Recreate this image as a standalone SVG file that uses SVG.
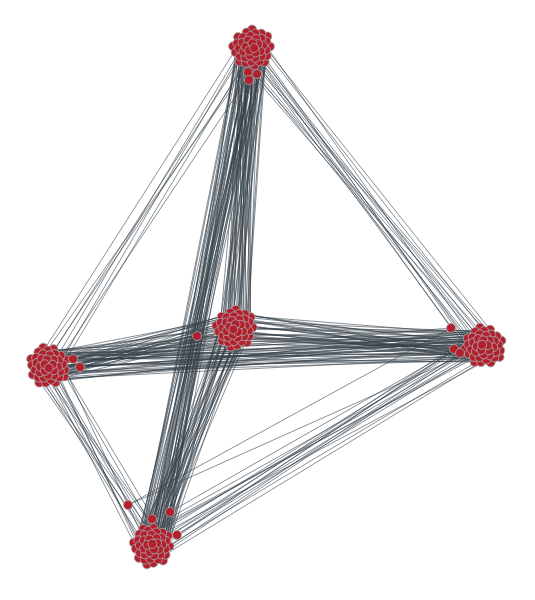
<svg xmlns="http://www.w3.org/2000/svg" width="535" height="600" viewBox="0 0 535 600">
<style>
.e{fill:none;stroke:#36424a;stroke-width:0.7;stroke-opacity:0.85;vector-effect:non-scaling-stroke}
circle{fill:#b21f2d;stroke:#a8a8a8;stroke-width:0.8}
</style>
<defs>
<path id="pA" class="e" d="M0 -15L1 8M0 -12L1 -3M0 -9L1 14M0 -6L1 -10M0 -3L1 5M0 0L1 -15M0 3L1 11M0 6L1 -6M0 9L1 2M0 12L1 -12M0 15L1 7M0 -14L1 -1M0 -11L1 16M0 -7L1 -14M0 -4L1 9M0 -1L1 -7M0 2L1 13M0 5L1 -2M0 8L1 -16M0 11L1 4M0 14L1 -9M0 -16L1 12M0 -13L1 -11M0 -8L1 3M0 -2L1 0M0 1L1 -13M0 4L1 6M0 7L1 15M0 10L1 -4M0 13L1 1"/>
<path id="pB" class="e" d="M0 -14L1 5M0 -10L1 -9M0 -6L1 13M0 -2L1 -4M0 2L1 9M0 6L1 -13M0 10L1 1M0 14L1 -7M0 -12L1 -15M0 -4L1 11M0 0L1 -1M0 4L1 15M0 8L1 -11M0 12L1 6M0 16L1 -2"/>
<path id="pC" class="e" d="M0 -12L1 -6M0 -6L1 10M0 0L1 -12M0 5L1 3M0 10L1 -3M0 14L1 12M0 -3L1 4M0 8L1 -9"/>
<g id="cl">
<circle cx="15.3" cy="-11.6" r="4.5"/><circle cx="-18.9" cy="-1.7" r="4.5"/><circle cx="12.6" cy="13.9" r="4.5"/><circle cx="0.1" cy="-18.5" r="4.5"/>
<circle cx="-12.4" cy="13.4" r="4.5"/><circle cx="17.9" cy="-1.5" r="4.5"/><circle cx="-14.0" cy="-10.9" r="4.5"/><circle cx="2.9" cy="17.2" r="4.5"/>
<circle cx="9.3" cy="-14.4" r="4.5"/><circle cx="-16.3" cy="4.3" r="4.5"/><circle cx="14.7" cy="7.7" r="4.5"/><circle cx="-5.5" cy="-15.4" r="4.5"/>
<circle cx="-6.2" cy="14.8" r="4.5"/><circle cx="14.3" cy="-6.6" r="4.5"/><circle cx="-14.7" cy="-4.7" r="4.5"/><circle cx="7.5" cy="13.1" r="4.5"/>
<circle cx="3.3" cy="-14.5" r="4.5"/><circle cx="-11.9" cy="8.3" r="4.5"/><circle cx="14.1" cy="1.9" r="4.5"/><circle cx="-8.9" cy="-10.6" r="4.5"/>
<circle cx="-0.6" cy="13.5" r="4.5"/><circle cx="9.3" cy="-9.3" r="4.5"/><circle cx="-12.8" cy="0.5" r="4.5"/><circle cx="9.5" cy="8.0" r="4.5"/>
<circle cx="-1.6" cy="-12.0" r="4.5"/><circle cx="-6.7" cy="9.5" r="4.5"/><circle cx="11.0" cy="-2.4" r="4.5"/><circle cx="-9.4" cy="-5.4" r="4.5"/>
<circle cx="3.1" cy="9.9" r="4.5"/><circle cx="4.2" cy="-9.0" r="4.5"/><circle cx="-8.7" cy="3.6" r="4.5"/><circle cx="8.4" cy="3.1" r="4.5"/>
<circle cx="-3.9" cy="-7.4" r="4.5"/><circle cx="-2.0" cy="7.5" r="4.5"/><circle cx="6.0" cy="-3.9" r="4.5"/><circle cx="-6.4" cy="-1.1" r="4.5"/>
<circle cx="3.5" cy="4.5" r="4.5"/><circle cx="0.4" cy="-4.8" r="4.5"/><circle cx="-2.8" cy="2.5" r="4.5"/><circle cx="2.2" cy="0" r="4.5"/>
</g>
</defs>
<rect width="535" height="600" fill="#ffffff"/>
<g id="connectors">
<use href="#pA" transform="matrix(-17,278,-0.998,-0.061,252,50)"/>
<use href="#pC" transform="matrix(-17,278,0.998,0.061,252,50)"/>
<use href="#pA" transform="matrix(-100,495,0.980,0.198,252,50)"/>
<use href="#pC" transform="matrix(-100,495,-0.980,-0.198,252,50)"/>
<use href="#pC" transform="matrix(-204,316,-0.840,-0.542,252,50)"/>
<use href="#pB" transform="matrix(232,296,-0.787,0.617,252,50)"/>
<use href="#pA" transform="matrix(187,-38,0.199,0.980,48,366)"/>
<use href="#pA" transform="matrix(436,-20,-0.046,-0.999,48,366)"/>
<use href="#pB" transform="matrix(104,179,-0.865,0.502,48,366)"/>
<use href="#pA" transform="matrix(249,18,-0.072,0.998,235,328)"/>
<use href="#pA" transform="matrix(-83,217,0.934,0.357,235,328)"/>
<use href="#pB" transform="matrix(-332,199,-0.514,-0.858,484,346)"/>
<path class="e" d="M128 505L451 328M128 505L470 352M170 512L462 345M177 535L455 350M170 512L250 80M152 518L240 315M73 359L460 353M80 367L484 340M80 367L230 330M197 336L48 370M197 336L484 350M197 336L252 60M197 336L152 540M451 328L258 58M451 328L60 360M454 349L230 335M460 353L50 375M249 80L150 540M257 74L240 320"/>
</g>
<g id="node-top">
<use href="#cl" transform="translate(252,48)"/>
<circle cx="248" cy="72" r="4.5"/><circle cx="257" cy="74" r="4.5"/><circle cx="249" cy="80" r="4.5"/>
</g>
<g id="node-left">
<use href="#cl" transform="translate(48,366) rotate(70)"/>
<circle cx="73" cy="359" r="4.5"/><circle cx="80" cy="367" r="4.5"/>
</g>
<g id="node-middle">
<use href="#cl" transform="translate(235,328) rotate(140)"/>
<circle cx="197" cy="336" r="4.5"/>
</g>
<g id="node-right">
<use href="#cl" transform="translate(484,346) rotate(210)"/>
<circle cx="451" cy="328" r="4.5"/><circle cx="454" cy="349" r="4.5"/><circle cx="460" cy="353" r="4.5"/>
</g>
<g id="node-bottom">
<use href="#cl" transform="translate(152,546) rotate(280)"/>
<circle cx="128" cy="505" r="4.5"/><circle cx="170" cy="512" r="4.5"/><circle cx="152" cy="519" r="4.5"/><circle cx="177" cy="535" r="4.5"/>
</g>
</svg>
